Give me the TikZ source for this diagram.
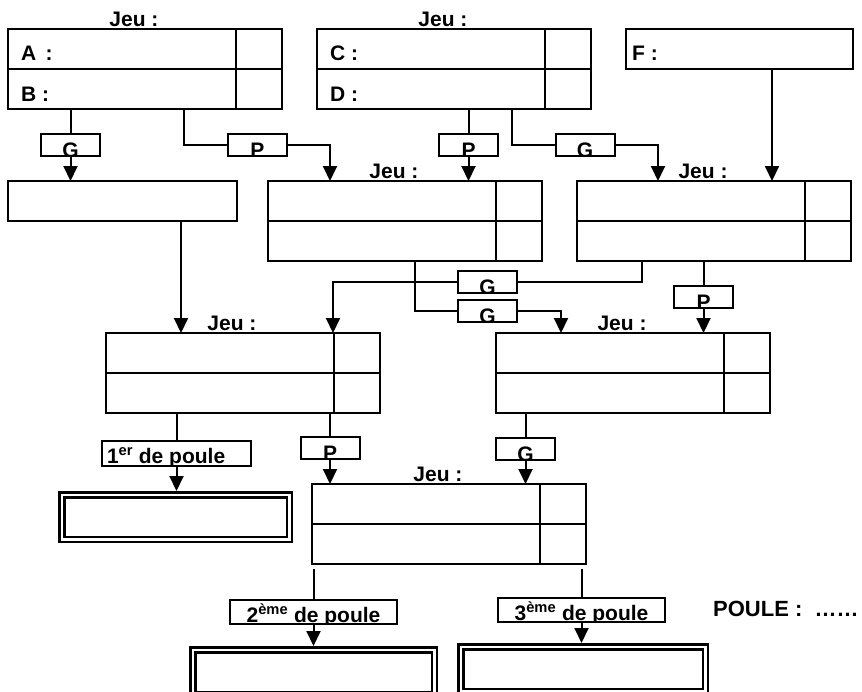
\documentclass[tikz,border=0pt]{standalone}
\usepackage{fontspec}
\setmainfont{Liberation Sans}
\usepackage{tikz}
\usetikzlibrary{arrows.meta}
\newcommand{\gras}{\bfseries\fontsize{21}{25}\selectfont}
\newcommand{\trait}{2pt}
\newcommand{\decal}{46pt}
% une case de jeu : deux lignes, colonne des scores a droite
\newcommand{\jeu}[3]{%
  \node[jeubox, anchor=north west] (#1) at (#2,#3) {};
  \draw[line width=\trait] (#1.west) -- (#1.east);
  \draw[line width=\trait] ([xshift=-\decal]#1.north east) -- ([xshift=-\decal]#1.south east);
  \node[titre] (#1t) at ([xshift=-11pt,yshift=3pt]#1.north) {Jeu :};
}

\begin{document}
\begin{tikzpicture}[x=1pt, y=-1pt,
    every node/.style={font=\gras},
    jeubox/.style={draw, line width=\trait, minimum width=274pt, minimum height=80pt, inner sep=0pt, outer sep=0pt},
    simple/.style={draw, line width=\trait, minimum height=40pt, inner sep=0pt, outer sep=0pt},
    titre/.style={anchor=base, inner sep=0pt},
    nom/.style={anchor=base west, inner sep=0pt},
    dedans/.style={draw=none, fill=none, minimum width=0pt, minimum height=0pt, inner sep=0pt},
    etiq/.style={draw, fill=white, line width=\trait, inner sep=0pt, outer sep=0pt, minimum width=59pt, minimum height=22pt,
      path picture={\node[dedans, anchor=base] at ([yshift=-1.5pt]path picture bounding box.south) {#1};}},
    poule/.style={draw, fill=white, line width=\trait, inner sep=0pt, outer sep=0pt, minimum width=167pt, minimum height=24pt,
      path picture={\node[dedans, anchor=base] at ([yshift=2pt]path picture bounding box.south) {#1};}},
    poulegauche/.style={draw, fill=white, line width=\trait, inner sep=0pt, outer sep=0pt, minimum width=149pt, minimum height=25pt,
      path picture={\node[dedans, anchor=base west] at ([xshift=5pt,yshift=2.5pt]path picture bounding box.south west) {#1};}},
    dbl/.style={draw, double, double distance=2.5pt, line width=2.5pt, inner sep=0pt, outer sep=3.75pt},
    lien/.style={line width=\trait},
    fleche/.style={line width=\trait, -{Triangle[length=15pt,width=14pt]}}]
  \clip (0,0) rectangle (862,691);

  % premier tour
  \jeu{ab}{8}{29}
  \jeu{cd}{317}{29}
  \node[simple, anchor=north west, minimum width=227pt] (f) at (626,29) {};
  \node[nom] (ta) at ([xshift=13pt,yshift=9pt]ab.west) {A \,:};
  \node[nom] (tb) at ([xshift=13pt,yshift=8pt]ab.south west) {B :};
  \node[nom] (tc) at ([xshift=13pt,yshift=9pt]cd.west) {C :};
  \node[nom] (td) at ([xshift=13pt,yshift=8pt]cd.south west) {D :};
  \node[nom] (tf) at ([xshift=6pt,yshift=9pt]f.south west) {F :};

  % deuxieme tour
  \node[simple, anchor=north west, minimum width=229pt] (solo) at (8,181) {};
  \jeu{mil}{268}{181}
  \jeu{dro}{577}{181}

  % troisieme tour
  \jeu{gau3}{106}{333}
  \jeu{dro3}{496}{333}

  % dernier jeu
  \jeu{fin}{312}{484}

  % classement
  \node[dbl, minimum width=227.5pt, minimum height=44.5pt] (d1) at (175.5,517) {};
  \node[dbl, minimum width=241.5pt, minimum height=44.5pt] (d2) at (313.5,672) {};
  \node[dbl, minimum width=244.5pt, minimum height=44.5pt] (d3) at (583,669) {};
  \node[nom, font=\bfseries\fontsize{22}{26}\selectfont] (poule) at (713,616) {POULE :\ \ ……};

  % points de depart des liens
  \coordinate (abbas) at ([xshift=176pt]ab.south west);
  \coordinate (cdbas) at ([xshift=195pt]cd.south west);
  \coordinate (fbas) at ([xshift=146pt]f.south west);
  \coordinate (sbas) at ([xshift=173pt]solo.south west);
  \coordinate (mbas) at ([xshift=147pt]mil.south west);
  \coordinate (dbas) at ([xshift=65pt]dro.south west);
  \coordinate (milh) at ([xshift=62pt]mil.north west);
  \coordinate (droh) at ([xshift=81pt]dro.north west);
  \coordinate (gau3h) at ([xshift=227pt]gau3.north west);
  \coordinate (dro3h) at ([xshift=65pt]dro3.north west);

  % etiquettes G / P
  \node[etiq=G] (gab) at (70.5,144.5) {};
  \node[etiq=P] (pab) at (257.5,144.5) {};
  \node[etiq=P] (pcd) at (468.5,144.5) {};
  \node[etiq=G] (gcd) at (585,144.5) {};
  \node[etiq=G] (g1) at (487.5,282) {};
  \node[etiq=G] (g2) at (487.5,311) {};
  \node[etiq=P] (pdr) at (703.5,297) {};
  \node[etiq=P] (p3) at (330,448) {};
  \node[etiq=G] (g3) at (525.5,448.5) {};
  \node[poulegauche={1\textsuperscript{er} de poule}] (l1) at (176.5,453.5) {};
  \node[poule={2\textsuperscript{ème} de poule}] (l2) at (313.5,612) {};
  \node[poule={3\textsuperscript{ème} de poule}] (l3) at (581.5,610) {};

  % liens
  \draw[lien] (ab.south -| gab.north) -- (gab.north);
  \draw[fleche] (gab.south) -- (solo.north -| gab.south);
  \draw[lien] (abbas) |- (pab.west);
  \draw[fleche] (pab.east) -| (milh);
  \draw[lien] (cd.south -| pcd.north) -- (pcd.north);
  \draw[fleche] (pcd.south) -- (mil.north -| pcd.south);
  \draw[lien] (cdbas) |- (gcd.west);
  \draw[fleche] (gcd.east) -| (droh);
  \draw[fleche] (fbas) -- (fbas |- dro.north);
  \draw[fleche] (sbas) -- (sbas |- gau3.north);
  \draw[lien] (dbas) |- (g1.east);
  \draw[fleche] (g1.west) -| (gau3h);
  \draw[lien] (mbas) |- (g2.west);
  \draw[fleche] (g2.east) -| (dro3h);
  \draw[lien] (dro.south -| pdr.north) -- (pdr.north);
  \draw[fleche] (pdr.south) -- (dro3.north -| pdr.south);
  \draw[lien] (gau3.south -| l1.north) -- (l1.north);
  \draw[fleche] (l1.south) -- (d1.north -| l1.south);
  \draw[lien] (gau3.south -| p3.north) -- (p3.north);
  \draw[fleche] (p3.south) -- (fin.north -| p3.south);
  \draw[lien] (dro3.south -| g3.north) -- (g3.north);
  \draw[fleche] (g3.south) -- (fin.north -| g3.south);
  \draw[lien, shorten <=5pt] (fin.south -| l2.north) -- (l2.north);
  \draw[fleche] (l2.south) -- (d2.north -| l2.south);
  \draw[lien, shorten <=5pt] (fin.south -| l3.north) -- (l3.north);
  \draw[fleche] (l3.south) -- (d3.north -| l3.south);
\end{tikzpicture}
\end{document}
